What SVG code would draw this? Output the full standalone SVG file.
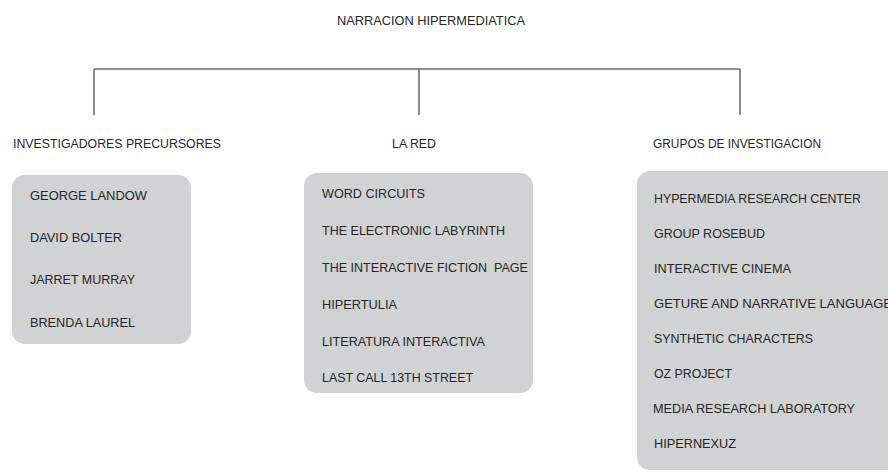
<svg xmlns="http://www.w3.org/2000/svg" width="888" height="472" viewBox="0 0 888 472">
<style>
text{font-family:"Liberation Sans",Arial,sans-serif;fill:#262626}
.t{font-size:13px}
.h{font-size:12.5px}
.i{font-size:13.5px}
.box{fill:#d1d2d4}
.ln{stroke:#6d6e71;stroke-width:1.6;fill:none}
</style>
<rect width="888" height="472" fill="#ffffff"/>
<g id="connectors">
<path class="ln" d="M94 69H740M94 69V115M419 69V115M740 69V115"/>
</g>
<g id="title"><text class="t" x="337" y="25" textLength="188" lengthAdjust="spacingAndGlyphs">NARRACION HIPERMEDIATICA</text></g>
<g id="header-investigadores"><text class="h" x="13" y="148" textLength="208" lengthAdjust="spacingAndGlyphs">INVESTIGADORES PRECURSORES</text></g>
<g id="header-lared"><text class="h" x="392" y="148" textLength="44" lengthAdjust="spacingAndGlyphs">LA RED</text></g>
<g id="header-grupos"><text class="h" x="653" y="148" textLength="168" lengthAdjust="spacingAndGlyphs">GRUPOS DE INVESTIGACION</text></g>
<g id="box-investigadores">
<rect class="box" x="12" y="175" width="179" height="169" rx="13"/>
<text class="i" x="30" y="200" textLength="117" lengthAdjust="spacingAndGlyphs">GEORGE LANDOW</text>
<text class="i" x="30" y="242" textLength="92" lengthAdjust="spacingAndGlyphs">DAVID BOLTER</text>
<text class="i" x="30" y="284" textLength="105" lengthAdjust="spacingAndGlyphs">JARRET MURRAY</text>
<text class="i" x="30" y="327" textLength="105" lengthAdjust="spacingAndGlyphs">BRENDA LAUREL</text>
</g>
<g id="box-lared">
<rect class="box" x="304" y="173" width="229" height="220" rx="13"/>
<text class="i" x="322" y="198" textLength="103" lengthAdjust="spacingAndGlyphs">WORD CIRCUITS</text>
<text class="i" x="322" y="235" textLength="183" lengthAdjust="spacingAndGlyphs">THE ELECTRONIC LABYRINTH</text>
<text class="i" x="322" y="272" textLength="206" lengthAdjust="spacingAndGlyphs" xml:space="preserve">THE INTERACTIVE FICTION  PAGE</text>
<text class="i" x="322" y="309" textLength="75" lengthAdjust="spacingAndGlyphs">HIPERTULIA</text>
<text class="i" x="322" y="346" textLength="163" lengthAdjust="spacingAndGlyphs">LITERATURA INTERACTIVA</text>
<text class="i" x="322" y="382" textLength="151" lengthAdjust="spacingAndGlyphs">LAST CALL 13TH STREET</text>
</g>
<g id="box-grupos">
<rect class="box" x="637" y="171" width="280" height="299" rx="13"/>
<text class="i" x="654" y="203" textLength="207" lengthAdjust="spacingAndGlyphs">HYPERMEDIA RESEARCH CENTER</text>
<text class="i" x="654" y="238" textLength="111" lengthAdjust="spacingAndGlyphs">GROUP ROSEBUD</text>
<text class="i" x="654" y="273" textLength="137" lengthAdjust="spacingAndGlyphs">INTERACTIVE CINEMA</text>
<text class="i" x="654" y="308" textLength="238" lengthAdjust="spacingAndGlyphs">GETURE AND NARRATIVE LANGUAGE</text>
<text class="i" x="654" y="343" textLength="159" lengthAdjust="spacingAndGlyphs">SYNTHETIC CHARACTERS</text>
<text class="i" x="654" y="378" textLength="78" lengthAdjust="spacingAndGlyphs">OZ PROJECT</text>
<text class="i" x="653" y="413" textLength="202" lengthAdjust="spacingAndGlyphs">MEDIA RESEARCH LABORATORY</text>
<text class="i" x="654" y="448" textLength="82" lengthAdjust="spacingAndGlyphs">HIPERNEXUZ</text>
</g>
</svg>
